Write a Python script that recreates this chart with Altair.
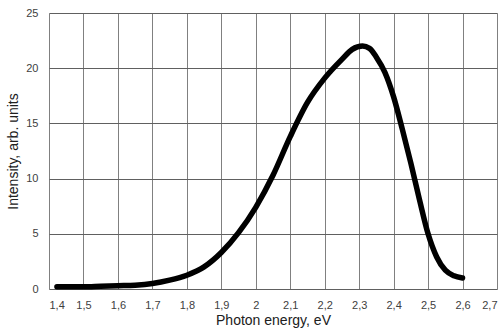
import altair as alt
import pandas as pd

energy = [1.423, 1.45, 1.5, 1.55, 1.6, 1.65, 1.7, 1.75, 1.8, 1.85, 1.9, 1.95, 2.0, 2.05, 2.1,
          2.15, 2.2, 2.25, 2.28, 2.31, 2.33, 2.35, 2.375, 2.4, 2.425, 2.45, 2.475, 2.5,
          2.525, 2.55, 2.575, 2.6]
intensity = [0.2, 0.2, 0.2, 0.25, 0.3, 0.35, 0.5, 0.8, 1.25, 2.0, 3.3, 5.1, 7.4, 10.3, 13.8,
             16.9, 19.1, 20.8, 21.7, 22.0, 21.8, 21.0, 19.6, 17.4, 14.5, 11.4, 8.1, 5.0,
             2.9, 1.7, 1.2, 1.0]

df = pd.DataFrame({"energy": energy, "intensity": intensity})

font = "Liberation Sans"

chart = alt.Chart(df).mark_line(color="black", strokeWidth=5.5, strokeCap="round",
                                strokeJoin="round", interpolate="monotone").encode(
    x=alt.X("energy:Q",
            scale=alt.Scale(domain=[1.4, 2.7], nice=False, zero=False),
            axis=alt.Axis(title="Photon energy, eV",
                          values=[1.4 + 0.1 * i for i in range(14)],
                          labelExpr="replace(format(datum.value, '.1~f'), '.', ',')",
                          grid=True, gridColor="#808080", gridWidth=1,
                          domain=False, ticks=False, labelPadding=10,
                          labelFont=font, labelFontSize=11, labelColor="#404040",
                          titleFont=font, titleFontSize=14, titleFontWeight="normal",
                          titleColor="#202020", titlePadding=3)),
    y=alt.Y("intensity:Q",
            scale=alt.Scale(domain=[0, 25], nice=False),
            axis=alt.Axis(title="Intensity, arb. units",
                          values=[0, 5, 10, 15, 20, 25],
                          grid=True, gridColor="#606060", gridWidth=1,
                          domain=False, ticks=False, labelPadding=11,
                          labelFont=font, labelFontSize=11, labelColor="#404040",
                          titleFont=font, titleFontSize=14, titleFontWeight="normal",
                          titleColor="#202020", titlePadding=5)),
).properties(
    width=448, height=276,
    autosize=alt.AutoSizeParams(type="none"),
    padding={"left": 49, "top": 13, "right": 7, "bottom": 42},
).configure_view(stroke="#808080", strokeWidth=1).configure(background="white")

chart.save("out.html", embed_options={"renderer": "svg", "actions": False})
